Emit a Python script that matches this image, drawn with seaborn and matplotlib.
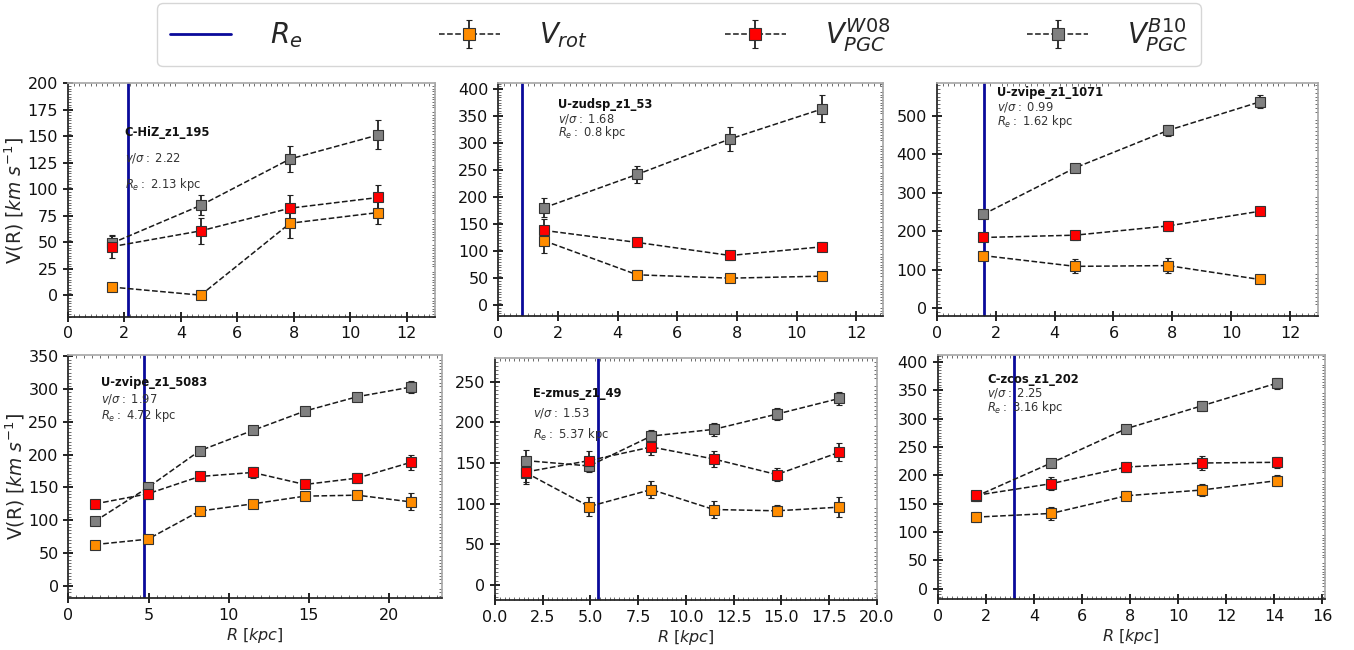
import numpy as np
import pandas as pd
import seaborn as sns
import matplotlib.pyplot as plt
from matplotlib.ticker import AutoMinorLocator, MultipleLocator

# --- galaxy data ---
names = ["C-HiZ_z1_195", "U-zudsp_z1_53", "U-zvipe_z1_1071",
         "U-zvipe_z1_5083", "E-zmus_z1_49", "C-zcos_z1_202"]
v_sigma = ["2.22", "1.68", "0.99", "1.97", "1.53", "2.25"]
r_e = [2.13, 0.8, 1.62, 4.72, 5.37, 3.16]

radii = [
    [1.55, 4.70, 7.87, 11.0],
    [1.54, 4.66, 7.77, 10.86],
    [1.58, 4.70, 7.85, 10.96],
    [1.67, 4.96, 8.19, 11.5, 14.75, 18.02, 21.35],
    [1.62, 4.93, 8.19, 11.46, 14.76, 18.03],
    [1.59, 4.72, 7.85, 10.97, 14.1],
]
v_rot = [
    [7.9, 0.3, 68.1, 78.2],
    [119.3, 56.3, 50.1, 53.8],
    [137, 109, 111, 75],
    [63, 71.2, 114, 125, 136.8, 138.3, 128.1],
    [138, 96.3, 117.2, 92.6, 91, 95.5],
    [126, 132.5, 163.7, 173.8, 190.3],
]
v_rot_err = [
    [2, 2, 14, 10.5],
    [22, 8, 4, 8],
    [8, 18, 20, 9],
    [6, 6, 5, 5, 5, 6, 13],
    [12, 12, 11, 11, 7, 12],
    [9, 12, 8, 11, 10],
]
v_w08 = [
    [46, 60.9, 82.3, 92.4],
    [138.5, 116.2, 92.1, 108.2],
    [184, 190, 214, 252],
    [125, 140.4, 166.8, 172.9, 154.6, 164.3, 188.2],
    [138.9, 152.9, 169.7, 154.9, 135.7, 163.1],
    [164.4, 185, 214.4, 221.5, 222.7],
]
v_w08_err = [
    [11, 12, 12, 11.5],
    [21, 9, 8, 8],
    [8, 12, 14, 10],
    [6, 8, 7, 8, 6, 8, 12],
    [15, 12, 10, 10, 8, 11],
    [6, 12, 9, 12, 10],
]
v_b10 = [
    [49.2, 84.9, 128.7, 151.4],
    [180.5, 242.3, 307.9, 363.5],
    [244, 365, 462, 536],
    [98.7, 150, 206, 237, 266.5, 288.4, 303],
    [152.9, 146.3, 183.2, 191.4, 210.2, 229.5],
    [162.6, 221.5, 282.2, 322.2, 362.3],
]
v_b10_err = [
    [7, 9.5, 12.6, 13.7],
    [18, 16, 22, 25],
    [8, 8, 14, 17],
    [5, 5, 5, 5, 5, 6, 9],
    [13, 8, 8, 8, 7, 8],
    [8, 7, 6, 9, 10],
]

x_limits = [(0, 13), (0, 12.9), (0, 12.95), (0, 23.3), (0, 20), (0, 16.1)]
y_limits = [(-20, 200), (-20, 412), (-20, 586), (-19, 352), (-19, 279), (-19, 412)]
x_major = [2, 2, 2, 5, 2.5, 2]
y_major = [25, 50, 100, 50, 50, 50]
# text anchor (axes fraction): x, name y, v/sigma y, Re y
text_pos = [
    (0.155, 0.79, 0.68, 0.565),
    (0.156, 0.905, 0.845, 0.787),
    (0.157, 0.958, 0.896, 0.834),
    (0.087, 0.888, 0.818, 0.751),
    (0.100, 0.855, 0.772, 0.686),
    (0.128, 0.900, 0.843, 0.784),
]

# axes placement in figure fraction (left, bottom, width, height)
positions = [
    (0.0502, 0.5128, 0.2710, 0.3590),
    (0.3680, 0.5138, 0.2843, 0.3590),
    (0.6918, 0.5138, 0.2818, 0.3590),
    (0.0505, 0.0795, 0.2758, 0.3743),
    (0.3656, 0.0769, 0.2819, 0.3718),
    (0.6925, 0.0780, 0.2860, 0.3758),
]

sns.set_theme(style="white")
plt.rcParams['font.family'] = ['DejaVu Sans']
plt.rcParams['mathtext.fontset'] = 'dejavusans'

fig = plt.figure(figsize=(13.54, 6.5), dpi=100)

series = [
    ("rot", v_rot, v_rot_err, "darkorange"),
    ("b10", v_b10, v_b10_err, "grey"),
    ("w08", v_w08, v_w08_err, "red"),
]

handles = {}
for i, name in enumerate(names):
    ax = fig.add_axes(positions[i])
    df = pd.DataFrame({"R": radii[i]})
    for key, vals, errs, col in series:
        df[key] = vals[i]
        df[key + "_err"] = errs[i]
        h = ax.errorbar(df["R"], df[key], yerr=df[key + "_err"], fmt='s', ls='--',
                        color='k', lw=1.1, mfc=col, mec='#333333', mew=0.8,
                        ms=7, ecolor='#222222', elinewidth=1.3, capsize=2, capthick=1.2)
        handles[key] = h
    handles["re"] = ax.axvline(r_e[i], color='#0a0a9a', lw=2)

    ax.set_xlim(*x_limits[i])
    ax.set_ylim(*y_limits[i])
    ax.xaxis.set_major_locator(MultipleLocator(x_major[i]))
    ax.yaxis.set_major_locator(MultipleLocator(y_major[i]))
    ax.xaxis.set_minor_locator(AutoMinorLocator(10))
    ax.yaxis.set_minor_locator(AutoMinorLocator(10))
    ax.tick_params(which='major', direction='inout', length=7, width=1.3,
                   bottom=True, left=True, labelsize=11.5, colors='#111111')
    ax.tick_params(which='minor', direction='in', length=2.5, width=0.6,
                   bottom=True, left=True, top=True, right=True, color='#555555')
    for side in ['top', 'right']:
        ax.spines[side].set_color('#aaaaaa')
    for side in ['left', 'bottom']:
        ax.spines[side].set_color('#222222')

    tx, ty1, ty2, ty3 = text_pos[i]
    ax.text(tx, ty1, name, transform=ax.transAxes, fontsize=8.3,
            fontweight='bold', va='center', color='#111111')
    ax.text(tx, ty2, r"$v/\sigma:$ " + v_sigma[i], transform=ax.transAxes,
            fontsize=8.3, va='center', color='#333333')
    ax.text(tx, ty3, r"$R_e:$ " + f"{r_e[i]} kpc", transform=ax.transAxes,
            fontsize=8.3, va='center', color='#333333')

    if i % 3 == 0:
        ax.set_ylabel(r"V(R) $[km\ s^{-1}]$", fontsize=13.5, labelpad=1)
    if i >= 3:
        ax.set_xlabel(r"$R\ [kpc]$", fontsize=11.5, labelpad=2)

leg = fig.legend(
    [handles["re"], handles["rot"], handles["w08"], handles["b10"]],
    [r"$R_e$", r"$V_{rot}$", r"$V_{PGC}^{W08}$", r"$V_{PGC}^{B10}$"],
    loc='upper left', bbox_to_anchor=(0.116, 0.995, 0.771, 0.0),
    mode='expand', ncol=4, fontsize=20, frameon=True, fancybox=True,
    edgecolor='#cccccc', handlelength=2.2, borderaxespad=0,
    borderpad=0.45, handletextpad=1.4, markerscale=1.3)

fig.savefig("out.png", dpi=100)
